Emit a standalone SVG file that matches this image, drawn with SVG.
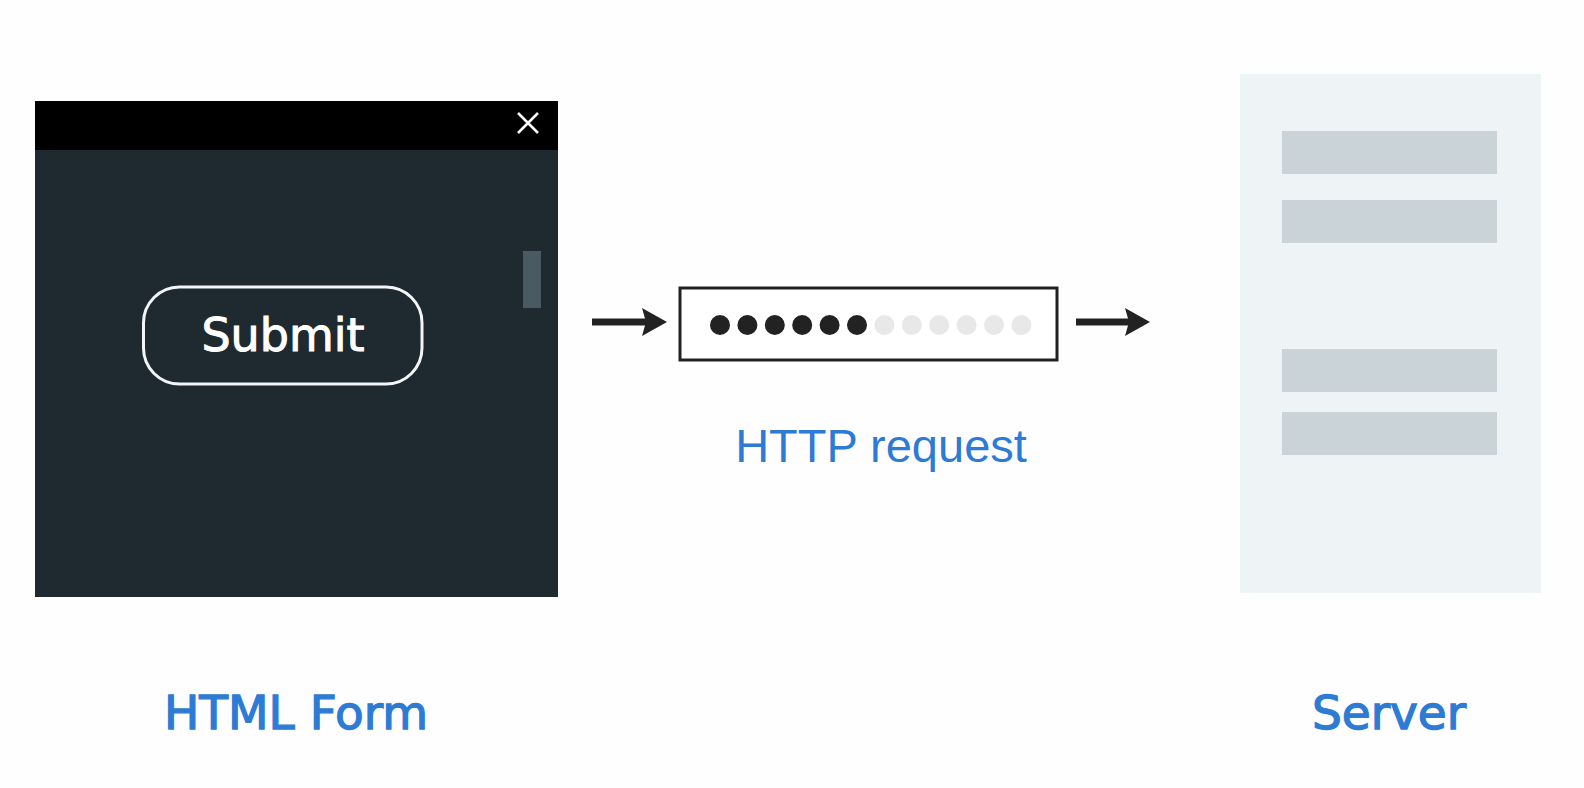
<svg xmlns="http://www.w3.org/2000/svg" width="1584" height="788" viewBox="0 0 1584 788">
<defs>
<style>
.label{font-family:"DejaVu Sans","Liberation Sans",sans-serif;fill:#2d7bd4;stroke:#2d7bd4;stroke-width:1.3;font-size:47px;text-anchor:middle}
.http{font-family:"Liberation Sans",Arial,sans-serif;fill:#2d7bd4;font-size:47px;text-anchor:middle}
.bar{fill:#c9d3d8}
.dark{fill:#222}
.light{fill:#e8e8e8}
.conn{stroke:#222;stroke-width:7;fill:none}
</style>
<marker id="ah" viewBox="0 0 25 28" refX="13" refY="14" markerWidth="3.57" markerHeight="4" markerUnits="strokeWidth" orient="auto">
<path d="M0,0 L25,14 L0,28 L4,14 z" fill="#222"/>
</marker>
</defs>
<rect width="1584" height="788" fill="#fefefe"/>
<g id="html-form">
<rect x="35" y="101" width="523" height="496" fill="#1f2930"/>
<rect x="35" y="101" width="523" height="49" fill="#000"/>
<path d="M518,113 L538,133 M538,113 L518,133" stroke="#fff" stroke-width="2.5"/>
<rect x="523" y="251" width="18" height="57" fill="#4a5a63"/>
<rect x="143.5" y="287" width="278.5" height="97" rx="36" fill="none" stroke="#f2f6f8" stroke-width="3"/>
<text x="283" y="351" font-family="'DejaVu Sans','Liberation Sans',sans-serif" font-size="46" fill="#fff" stroke="#fff" stroke-width="1" text-anchor="middle">Submit</text>
<text class="label" x="296" y="729">HTML Form</text>
</g>
<g id="http-request">
<rect x="680" y="288" width="377" height="72" fill="#fff" stroke="#222" stroke-width="3"/>
<circle class="dark" cx="720" cy="325" r="10"/>
<circle class="dark" cx="747.4" cy="325" r="10"/>
<circle class="dark" cx="774.8" cy="325" r="10"/>
<circle class="dark" cx="802.2" cy="325" r="10"/>
<circle class="dark" cx="829.6" cy="325" r="10"/>
<circle class="dark" cx="857" cy="325" r="10"/>
<circle class="light" cx="884.4" cy="325" r="10"/>
<circle class="light" cx="911.8" cy="325" r="10"/>
<circle class="light" cx="939.2" cy="325" r="10"/>
<circle class="light" cx="966.6" cy="325" r="10"/>
<circle class="light" cx="994" cy="325" r="10"/>
<circle class="light" cx="1021.4" cy="325" r="10"/>
<text class="http" x="881" y="462">HTTP request</text>
</g>
<g id="server">
<rect x="1240" y="74" width="301" height="519" fill="#eef3f5"/>
<rect class="bar" x="1282" y="131" width="215" height="43"/>
<rect class="bar" x="1282" y="200" width="215" height="43"/>
<rect class="bar" x="1282" y="349" width="215" height="43"/>
<rect class="bar" x="1282" y="412" width="215" height="43"/>
<text class="label" x="1389" y="729">Server</text>
</g>
<g id="connectors">
<line class="conn" x1="592" y1="322" x2="655" y2="322" marker-end="url(#ah)"/>
<line class="conn" x1="1076" y1="322" x2="1138" y2="322" marker-end="url(#ah)"/>
</g>
</svg>
